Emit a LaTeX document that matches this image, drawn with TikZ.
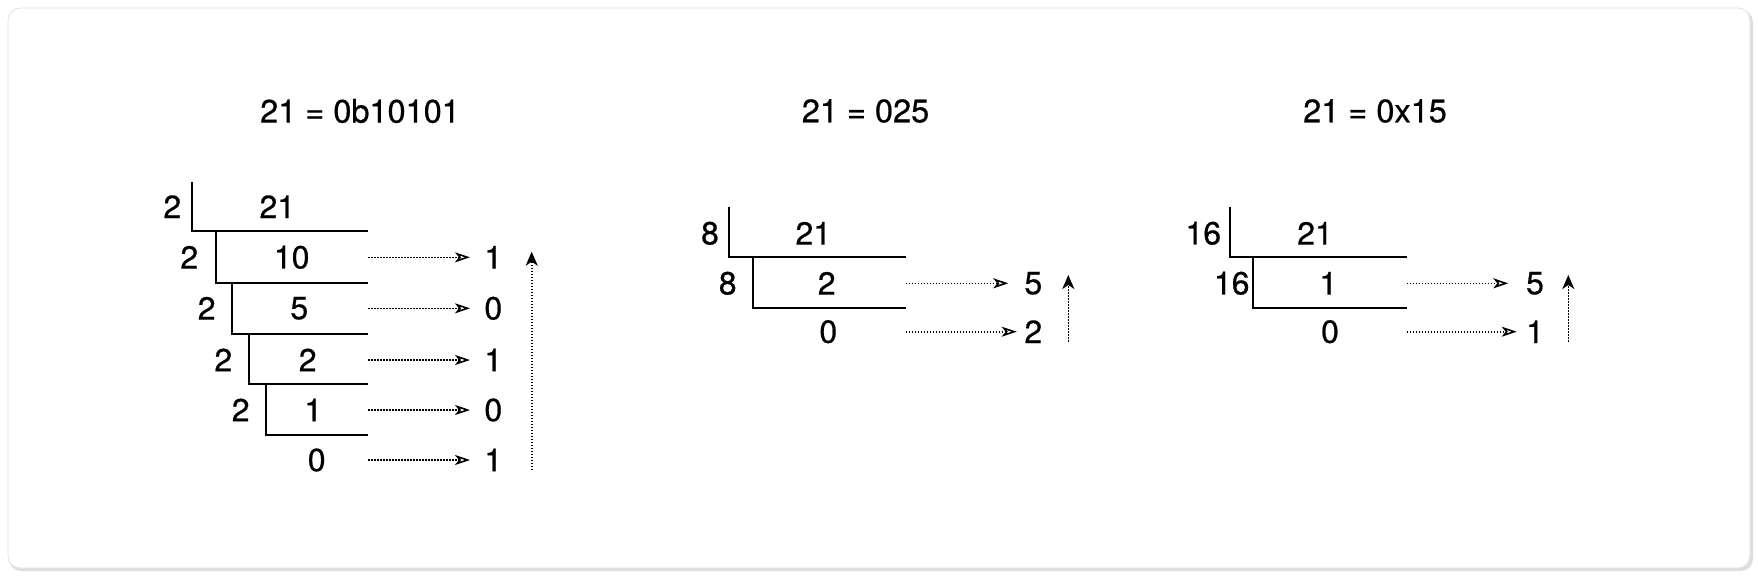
\documentclass[tikz,border=0pt]{standalone}
\usepackage{fontspec}
\setmainfont{TeX Gyre Heros}[FakeBold=0.6]
\usetikzlibrary{arrows.meta}
\definecolor{shadowgray}{RGB}{200,200,200}
\definecolor{framegray}{RGB}{225,225,225}
\tikzset{
  num/.style={font=\fontsize{32}{36}\selectfont, inner sep=0pt, anchor=center},
  title/.style={font=\fontsize{32.5}{36}\selectfont, inner sep=0pt, anchor=center},
  divline/.style={line width=2pt, black},
  resarrow/.style={dash pattern=on 1.5pt off 1.5pt, line width=1.6pt, -{Stealth[open, length=15pt, width=10pt, inset=4pt, line width=1.6pt, sep=0pt]}},
  uparrow/.style={dash pattern=on 1.5pt off 1.5pt, line width=1.6pt, -{Stealth[length=14pt, width=12pt, inset=4pt]}},
}
\begin{document}
\begin{tikzpicture}[x=1pt,y=-1pt]
\useasboundingbox (0,0) rectangle (1758,576);
% card with shadow
\fill[shadowgray, opacity=0.6, rounded corners=12pt] (9,10) rectangle (1753,571);
\fill[white, rounded corners=12pt, draw=framegray, line width=0.8pt] (8,8) rectangle (1750,568);

% titles
\node[title] (t1) at (360,111) {21 = 0b10101};
\node[title] (t2) at (865.5,111) {21 = 025};
\node[title] (t3) at (1375,111) {21 = 0x15};

% ---------- binary ----------
\coordinate (b0) at (191.7,181.7);
\coordinate (bh1) at (191.7,231); \coordinate (be1) at (368.3,231);
\coordinate (bv2) at (215.7,231); \coordinate (bh2) at (215.7,282.7); \coordinate (be2) at (368.3,282.7);
\coordinate (bv3) at (232.3,282.7); \coordinate (bh3) at (232.3,333.7); \coordinate (be3) at (368.3,333.7);
\coordinate (bv4) at (249.3,333.7); \coordinate (bh4) at (249.3,384.3); \coordinate (be4) at (368.3,384.3);
\coordinate (bv5) at (266.3,384.3); \coordinate (bh5) at (266.3,435.3); \coordinate (be5) at (368.3,435.3);
\draw[divline] (b0) -- (bh1) -- (be1);
\draw[divline] (bv2) -- (bh2) -- (be2);
\draw[divline] (bv3) -- (bh3) -- (be3);
\draw[divline] (bv4) -- (bh4) -- (be4);
\draw[divline] (bv5) -- (bh5) -- (be5);

\node[num] (bd1) at (172.3,206.7) {2};
\node[num] (bq0) at (277.3,206.7) {21};
\node[num] (bd2) at (189.3,257.3) {2};
\node[num] (bq1) at (291.7,257.3) {10};
\node[num] (bd3) at (206.7,308.3) {2};
\node[num] (bq2) at (299.3,308.3) {5};
\node[num] (bd4) at (223.3,360) {2};
\node[num] (bq3) at (307.7,360) {2};
\node[num] (bd5) at (240.7,410) {2};
\node[num] (bq4) at (313.3,410) {1};
\node[num] (bq5) at (316.7,460) {0};

\node[num] (br1) at (493.3,257.3) {1};
\node[num] (br2) at (493.3,308.3) {0};
\node[num] (br3) at (493.3,360) {1};
\node[num] (br4) at (493.3,410) {0};
\node[num] (br5) at (493.3,460) {1};

\foreach \y in {257.3,308.3,360,410,460}{
  \draw[resarrow] (368.3,\y) -- (470,\y);
}
\coordinate (bup0) at (531.7,470);
\coordinate (bup1) at (531.7,251.7);
\draw[uparrow] (bup0) -- (bup1);

% ---------- octal ----------
\coordinate (o0) at (729,206.7); \coordinate (oh1) at (729,256.7); \coordinate (oe1) at (905.7,256.7);
\coordinate (ov2) at (752.7,256.7); \coordinate (oh2) at (752.7,307.7); \coordinate (oe2) at (905.7,307.7);
\draw[divline] (o0) -- (oh1) -- (oe1);
\draw[divline] (ov2) -- (oh2) -- (oe2);
\node[num] (od1) at (710,233.3) {8};
\node[num] (oq0) at (813.3,233.3) {21};
\node[num] (od2) at (727.7,283.3) {8};
\node[num] (oq1) at (826.7,283.3) {2};
\node[num] (oq2) at (828.3,331.7) {0};
\node[num] (or1) at (1033.3,283.3) {5};
\node[num] (or2) at (1033.3,331.7) {2};
\coordinate (oa1) at (905.7,283.3); \coordinate (oa1e) at (1008.3,283.3);
\coordinate (oa2) at (905.7,331.7); \coordinate (oa2e) at (1016.7,331.7);
\draw[resarrow] (oa1) -- (oa1e);
\draw[resarrow] (oa2) -- (oa2e);
\coordinate (oup0) at (1068.3,341.7); \coordinate (oup1) at (1068.3,275);
\draw[uparrow] (oup0) -- (oup1);

% ---------- hex ----------
\coordinate (h0) at (1230,206.7); \coordinate (hh1) at (1230,256.7); \coordinate (he1) at (1406.7,256.7);
\coordinate (hv2) at (1253.3,256.7); \coordinate (hh2) at (1253.3,307.7); \coordinate (he2) at (1406.7,307.7);
\draw[divline] (h0) -- (hh1) -- (he1);
\draw[divline] (hv2) -- (hh2) -- (he2);
\node[num] (hd1) at (1203.3,233.3) {16};
\node[num] (hq0) at (1315,233.3) {21};
\node[num] (hd2) at (1231.7,283.3) {16};
\node[num] (hq1) at (1328.3,283.3) {1};
\node[num] (hq2) at (1330,331.7) {0};
\node[num] (hr1) at (1535,283.3) {5};
\node[num] (hr2) at (1535,331.7) {1};
\coordinate (ha1) at (1406.7,283.3); \coordinate (ha1e) at (1508.3,283.3);
\coordinate (ha2) at (1406.7,331.7); \coordinate (ha2e) at (1516.7,331.7);
\draw[resarrow] (ha1) -- (ha1e);
\draw[resarrow] (ha2) -- (ha2e);
\coordinate (hup0) at (1568.3,341.7); \coordinate (hup1) at (1568.3,275);
\draw[uparrow] (hup0) -- (hup1);
\end{tikzpicture}
\end{document}
